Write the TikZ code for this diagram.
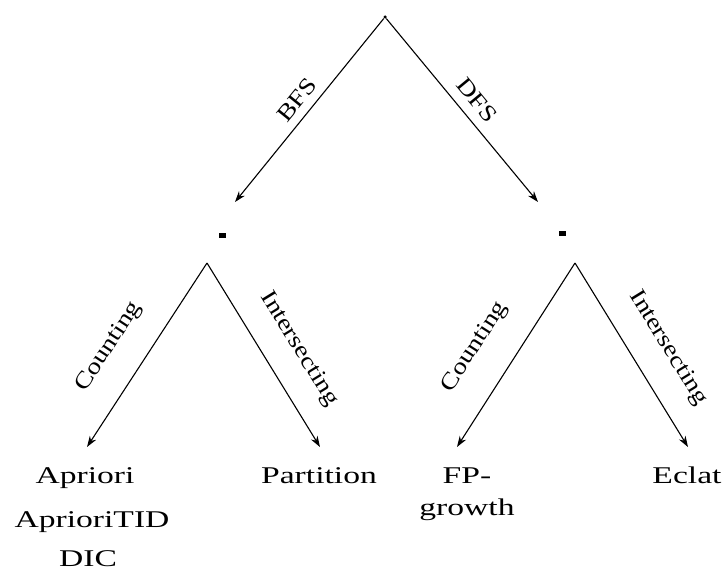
\documentclass[tikz,border=0pt]{standalone}
\usepackage{fontspec}
\setmainfont{Liberation Serif}
\usetikzlibrary{arrows.meta}
% widened lettering used throughout the tree
\newcommand{\stretchtxt}[1]{\scalebox{1.4}[1]{#1}}
\newcommand{\stretchlbl}[1]{\scalebox{1.2}[1]{#1}}
\begin{document}
\begin{tikzpicture}[x=1pt,y=-1pt,
  txt/.style={font=\fontsize{24}{24}\selectfont, inner sep=0pt, anchor=base},
  lbl/.style={font=\fontsize{23}{23}\selectfont, inner sep=0pt},
  edge/.style={line width=1.1pt, -{Stealth[length=11pt,width=7.5pt]}},
  dotmark/.style={fill, rectangle, inner sep=0pt, minimum width=7pt, minimum height=5pt},
  topmark/.style={fill, circle, inner sep=0pt, minimum size=3.5pt}
]
\useasboundingbox (0,0) rectangle (726,568);

% search strategy nodes
\node[topmark] (root) at (385,17) {};
\node[dotmark] (bfs) at (222,235) {};
\node[dotmark] (dfs) at (562,233) {};
\coordinate (bfsTip) at (235,202);
\coordinate (dfsTip) at (538,202);
\coordinate (lsplit) at (207,263);
\coordinate (rsplit) at (575,263);

% algorithms
\node[txt] (apriori) at (85,483) {\stretchtxt{Apriori}};
\node[txt] (aprioritid) at (92,527) {\stretchtxt{AprioriTID}};
\node[txt] (dic) at (88,566) {\stretchtxt{DIC}};
\node[txt] (partition) at (319,483) {\stretchtxt{Partition}};
\node[txt] (fp) at (467,483) {\stretchtxt{FP-}};
\node[txt] (growth) at (467,515) {\stretchtxt{growth}};
\node[txt] (eclat) at (687,483) {\stretchtxt{Eclat}};

\coordinate (tipA) at (87,447);
\coordinate (tipB) at (320,447);
\coordinate (tipC) at (457,447);
\coordinate (tipD) at (688,447);

% connectors
\draw[edge] (root) -- (bfsTip);
\draw[edge] (root) -- (dfsTip);
\draw[edge] (lsplit) -- (tipA);
\draw[edge] (lsplit) -- (tipB);
\draw[edge] (rsplit) -- (tipC);
\draw[edge] (rsplit) -- (tipD);

% connector labels
\node[lbl, rotate=51] (lbfs) at (297,100) {\stretchlbl{BFS}};
\node[lbl, rotate=-50.4] (ldfs) at (477,100) {\stretchlbl{DFS}};
\node[lbl, rotate=56.9] (lcnt1) at (109,347) {\stretchlbl{Counting}};
\node[lbl, rotate=-58.4] (lint1) at (299,349) {\stretchlbl{Intersecting}};
\node[lbl, rotate=57.3] (lcnt2) at (475,347) {\stretchlbl{Counting}};
\node[lbl, rotate=-58.4] (lint2) at (668,348) {\stretchlbl{Intersecting}};
\end{tikzpicture}
\end{document}
